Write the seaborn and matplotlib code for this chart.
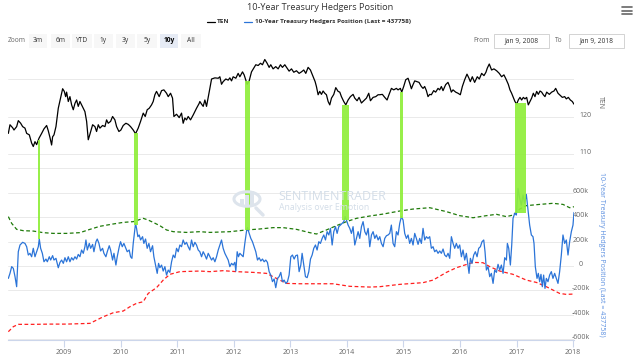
import numpy as np
import pandas as pd
import matplotlib
matplotlib.use("Agg")
import matplotlib.pyplot as plt
import matplotlib.dates as mdates
import matplotlib.ticker as mticker
from matplotlib.patches import Rectangle, Circle
from matplotlib.lines import Line2D
import seaborn as sns

# time in years after 2008-01-01
ten_t = [0.015, 0.044, 0.091, 0.115, 0.162, 0.191, 0.233, 0.268, 0.309, 0.339,
         0.386, 0.427, 0.456, 0.486, 0.515, 0.557, 0.604, 0.645, 0.692, 0.721,
         0.751, 0.780, 0.798, 0.822, 0.857, 0.898, 0.939, 0.975, 1.004, 1.028,
         1.045, 1.075, 1.104, 1.134, 1.163, 1.193, 1.222, 1.251, 1.281, 1.310,
         1.340, 1.369, 1.399, 1.428, 1.458, 1.505, 1.546, 1.575, 1.605, 1.634,
         1.681, 1.723, 1.752, 1.781, 1.823, 1.858, 1.899, 1.929, 1.970, 2.005,
         2.046, 2.093, 2.135, 2.176, 2.223, 2.264, 2.311, 2.353, 2.400, 2.435,
         2.470, 2.506, 2.547, 2.576, 2.606, 2.635, 2.682, 2.724, 2.765, 2.812,
         2.842, 2.883, 2.918, 2.942, 2.989, 3.036, 3.077, 3.106, 3.136, 3.165,
         3.195, 3.236, 3.283, 3.342, 3.389, 3.401, 3.431, 3.460, 3.490, 3.519,
         3.549, 3.578, 3.608, 3.667, 3.726, 3.755, 3.784, 3.813, 3.860, 3.902,
         3.931, 3.961, 3.990, 4.037, 4.078, 4.108, 4.155, 4.184, 4.214, 4.237,
         4.273, 4.314, 4.355, 4.390, 4.432, 4.473, 4.508, 4.549, 4.590, 4.626,
         4.655, 4.696, 4.743, 4.785, 4.826, 4.861, 4.903, 4.944, 4.979, 5.021,
         5.062, 5.109, 5.156, 5.197, 5.238, 5.274, 5.315, 5.356, 5.403, 5.439,
         5.462, 5.492, 5.521, 5.551, 5.580, 5.610, 5.639, 5.669, 5.698, 5.728,
         5.769, 5.804, 5.845, 5.875, 5.904, 5.945, 5.981, 6.022, 6.063, 6.110,
         6.140, 6.181, 6.216, 6.258, 6.299, 6.346, 6.387, 6.417, 6.464, 6.511,
         6.552, 6.581, 6.628, 6.670, 6.711, 6.747, 6.788, 6.829, 6.876, 6.905,
         6.946, 6.970, 7.005, 7.041, 7.082, 7.111, 7.141, 7.170, 7.200, 7.241,
         7.276, 7.317, 7.347, 7.376, 7.406, 7.435, 7.465, 7.494, 7.535, 7.570,
         7.612, 7.641, 7.671, 7.700, 7.747, 7.788, 7.818, 7.847, 7.877, 7.924,
         7.965, 8.006, 8.042, 8.083, 8.124, 8.159, 8.183, 8.218, 8.259, 8.306,
         8.342, 8.383, 8.424, 8.459, 8.483, 8.518, 8.559, 8.601, 8.648, 8.695,
         8.736, 8.777, 8.813, 8.854, 8.884, 8.913, 8.943, 8.972, 9.002, 9.031,
         9.061, 9.090, 9.120, 9.149, 9.179, 9.208, 9.238, 9.267, 9.297, 9.326,
         9.356, 9.385, 9.415, 9.444, 9.474, 9.503, 9.533, 9.580, 9.621, 9.662,
         9.692, 9.733, 9.774, 9.810, 9.851, 9.880, 9.916, 9.951, 9.986, 10.015]
ten_v = [115.6, 117.9, 117.1, 116.5, 117.4, 119.0, 118.3, 117.4, 117.0, 115.6,
         115.2, 113.0, 112.1, 113.4, 112.6, 114.3, 115.6, 116.8, 117.7, 116.3,
         114.5, 112.5, 114.7, 115.2, 117.4, 122.3, 125.0, 127.5, 126.8, 125.4,
         126.6, 124.1, 125.4, 123.2, 121.9, 123.6, 124.5, 122.8, 124.1, 123.2,
         122.3, 121.4, 118.8, 113.9, 115.4, 117.9, 117.4, 116.1, 117.9, 117.0,
         117.7, 117.4, 119.2, 118.3, 118.8, 120.1, 119.2, 117.4, 116.1, 116.5,
         117.7, 118.3, 118.0, 117.4, 116.5, 115.5, 117.0, 118.8, 121.0, 120.1,
         121.9, 122.3, 123.2, 124.1, 125.9, 126.8, 125.4, 127.0, 127.2, 126.3,
         125.4, 126.3, 125.0, 120.1, 120.7, 119.8, 121.0, 118.3, 119.7, 119.2,
         120.1, 119.2, 120.5, 122.3, 123.6, 124.1, 123.4, 122.8, 124.5, 122.8,
         125.2, 127.6, 130.1, 130.4, 130.3, 130.7, 128.7, 129.4, 130.1, 129.8,
         130.4, 129.6, 130.7, 130.3, 131.6, 130.7, 132.0, 131.2, 129.8, 128.7,
         129.6, 132.0, 133.0, 133.9, 133.7, 134.3, 133.9, 135.3, 134.3, 133.2,
         133.9, 132.8, 133.4, 132.8, 133.9, 133.2, 133.9, 133.0, 132.2, 132.8,
         131.9, 132.3, 131.6, 132.0, 132.5, 131.6, 133.2, 132.5, 130.7, 129.4,
         128.1, 125.9, 126.8, 126.0, 126.9, 126.3, 125.9, 124.1, 123.2, 125.0,
         126.0, 127.8, 126.8, 126.6, 125.4, 124.1, 123.2, 124.5, 125.4, 126.0,
         125.0, 124.3, 125.2, 123.7, 124.3, 125.0, 126.3, 124.3, 125.2, 125.4,
         125.9, 125.9, 126.0, 125.2, 124.5, 126.0, 127.6, 127.2, 127.6, 127.2,
         127.6, 126.6, 128.1, 129.9, 130.3, 129.0, 127.5, 128.6, 129.6, 129.4,
         129.2, 128.1, 127.6, 128.1, 127.0, 125.4, 126.0, 125.9, 127.0, 126.6,
         127.6, 127.2, 128.1, 127.0, 128.6, 129.2, 128.1, 126.6, 127.2, 126.6,
         126.3, 125.9, 128.1, 129.9, 131.4, 130.3, 129.4, 130.7, 129.2, 130.7,
         130.1, 131.6, 131.0, 131.9, 133.0, 134.1, 132.5, 132.8, 132.3, 131.6,
         130.7, 131.2, 130.1, 128.7, 127.2, 126.3, 125.2, 124.1, 123.4, 124.5,
         125.2, 124.5, 125.2, 124.8, 125.2, 123.2, 124.1, 125.0, 126.3, 125.4,
         126.8, 126.0, 126.9, 126.6, 125.9, 125.4, 126.6, 126.0, 126.6, 126.9,
         127.6, 126.3, 125.7, 125.2, 125.4, 124.8, 125.2, 124.5, 124.1, 123.4]

hedge_t = [0.015, 0.044, 0.074, 0.103, 0.133, 0.162, 0.191, 0.221, 0.268, 0.309,
           0.339, 0.368, 0.397, 0.427, 0.456, 0.486, 0.515, 0.545, 0.562, 0.586,
           0.616, 0.645, 0.680, 0.704, 0.739, 0.763, 0.798, 0.822, 0.857, 0.898,
           0.928, 0.957, 0.987, 1.016, 1.045, 1.075, 1.104, 1.134, 1.163, 1.193,
           1.222, 1.251, 1.281, 1.310, 1.340, 1.369, 1.387, 1.411, 1.446, 1.470,
           1.505, 1.528, 1.564, 1.587, 1.617, 1.646, 1.681, 1.705, 1.740, 1.764,
           1.799, 1.823, 1.858, 1.882, 1.917, 1.940, 1.976, 1.999, 2.029, 2.058,
           2.093, 2.117, 2.152, 2.176, 2.200, 2.223, 2.247, 2.264, 2.282, 2.305,
           2.329, 2.353, 2.388, 2.411, 2.441, 2.470, 2.500, 2.529, 2.565, 2.588,
           2.618, 2.647, 2.671, 2.694, 2.724, 2.753, 2.783, 2.812, 2.842, 2.871,
           2.901, 2.930, 2.960, 2.989, 3.018, 3.048, 3.077, 3.106, 3.136, 3.165,
           3.195, 3.224, 3.254, 3.283, 3.313, 3.342, 3.372, 3.401, 3.431, 3.460,
           3.490, 3.519, 3.549, 3.578, 3.608, 3.637, 3.667, 3.696, 3.726, 3.755,
           3.784, 3.813, 3.843, 3.872, 3.902, 3.931, 3.961, 3.990, 4.019, 4.037,
           4.061, 4.084, 4.108, 4.137, 4.167, 4.196, 4.225, 4.243, 4.273, 4.302,
           4.331, 4.361, 4.390, 4.420, 4.449, 4.479, 4.508, 4.538, 4.567, 4.596,
           4.626, 4.655, 4.685, 4.714, 4.743, 4.773, 4.802, 4.832, 4.861, 4.891,
           4.920, 4.950, 4.979, 5.009, 5.038, 5.068, 5.097, 5.127, 5.156, 5.186,
           5.209, 5.239, 5.268, 5.298, 5.327, 5.357, 5.386, 5.415, 5.445, 5.474,
           5.504, 5.533, 5.563, 5.592, 5.622, 5.651, 5.681, 5.710, 5.740, 5.769,
           5.799, 5.828, 5.857, 5.887, 5.917, 5.946, 5.969, 5.993, 6.022, 6.052,
           6.081, 6.110, 6.140, 6.169, 6.199, 6.228, 6.258, 6.287, 6.317, 6.346,
           6.376, 6.405, 6.435, 6.464, 6.494, 6.523, 6.553, 6.582, 6.611, 6.641,
           6.670, 6.700, 6.729, 6.758, 6.787, 6.817, 6.846, 6.876, 6.905, 6.935,
           6.964, 6.994, 7.023, 7.053, 7.082, 7.111, 7.141, 7.170, 7.200, 7.229,
           7.259, 7.288, 7.318, 7.347, 7.377, 7.406, 7.435, 7.465, 7.494, 7.524,
           7.553, 7.583, 7.612, 7.642, 7.671, 7.701, 7.730, 7.760, 7.789, 7.819,
           7.848, 7.878, 7.907, 7.936, 7.966, 7.995, 8.025, 8.054, 8.084, 8.113,
           8.143, 8.160, 8.184, 8.213, 8.243, 8.272, 8.302, 8.331, 8.361, 8.390,
           8.420, 8.443, 8.467, 8.496, 8.526, 8.555, 8.585, 8.614, 8.644, 8.673,
           8.703, 8.732, 8.762, 8.791, 8.821, 8.838, 8.862, 8.891, 8.915, 8.938,
           8.968, 8.997, 9.026, 9.056, 9.085, 9.115, 9.144, 9.173, 9.203, 9.232,
           9.262, 9.291, 9.309, 9.332, 9.362, 9.385, 9.409, 9.432, 9.456, 9.479,
           9.503, 9.527, 9.556, 9.585, 9.615, 9.644, 9.674, 9.703, 9.733, 9.762,
           9.792, 9.821, 9.851, 9.880, 9.910, 9.939, 9.969, 9.998, 10.016]
# hedgers position, thousands of contracts
hedge_v = [-101, -60, -5, -19, -87, -169, 117, 172, 194, 185,
           158, 90, 104, 76, 145, 76, 117, 158, 221, 145,
           104, 35, 57, 35, 76, 49, 85, 49, 63, -14,
           30, 49, 22, 68, 35, 76, 35, 68, 49, 76,
           57, 95, 76, 131, 104, 158, 213, 131, 185, 145,
           177, 117, 199, 221, 185, 123, 145, 104, 76, 117,
           166, 131, 49, 104, 8, 76, 158, 199, 158, 185,
           145, 117, 131, 76, 63, 185, 281, 349, 308, 240,
           254, 213, 240, 185, 221, 145, 185, 117, 166, 76,
           8, -60, 22, -14, 8, -41, -5, -74, -33, -52,
           35, 90, 68, 145, 117, 172, 158, 213, 177, 194,
           158, 131, 213, 158, 194, 172, 131, 117, 76, 117,
           90, 57, 104, 76, 49, 68, 35, 76, 131, 172,
           213, 145, 104, 76, 49, -5, 22, 8, 30, -41,
           117, 76, 104, 90, 76, 185, 281, 314, 267, 226,
           199, 158, 117, 49, 68, 41, 57, 35, 49, 30,
           -46, -74, -128, -106, -177, -101, -87, -52, -128, -115,
           -142, -128, -74, 76, 90, 57, 85, 90, -46, 8,
           104, 8, -87, -95, -46, 57, 90, 145, 172, 131,
           199, 185, 226, 254, 213, 281, 254, 308, 172, 281,
           322, 267, 322, 335, 349, 363, 404, 376, 335, 308,
           267, 322, 172, 226, 281, 226, 322, 363, 281, 254,
           308, 158, 254, 281, 226, 254, 213, 240, 185, 158,
           226, 248, 254, 267, 335, 185, 158, 281, 254, 349,
           404, 376, 267, 226, 254, 185, 226, 172, 267, 226,
           177, 226, 185, 308, 213, 240, 226, 240, 145, 158,
           117, 131, 104, 123, 104, 139, 90, 76, 104, 63,
           240, 185, 145, 185, 145, 172, 76, 131, 49, 104,
           -5, -60, 63, 22, 90, 117, 76, 145, 158, 199,
           213, 117, -33, -5, -87, -60, -142, -33, -52, 14,
           -33, 8, -60, 68, 49, 185, 145, 8, 172, 390,
           431, 417, 635, 554, 499, 581, 513, 586, 458, 335,
           254, 240, 185, -5, -101, -60, -128, -68, -169, -74,
           -183, -101, -128, -74, -46, -101, -60, -101, -142, -46,
           90, 254, 185, 213, 90, 199, 281, 335, 438]

upper_t = [0.015, 0.074, 0.162, 0.280, 0.456, 0.633, 0.810, 1.045, 1.281, 1.458,
           1.634, 1.870, 2.046, 2.223, 2.311, 2.400, 2.488, 2.576, 2.694, 2.812,
           2.930, 3.165, 3.401, 3.578, 3.931, 4.225, 4.461, 4.696, 4.873, 5.109,
           5.344, 5.462, 5.639, 5.816, 5.993, 6.169, 6.405, 6.641, 6.935, 7.170,
           7.465, 7.760, 7.995, 8.231, 8.467, 8.644, 8.821, 8.938, 9.056, 9.173,
           9.409, 9.644, 9.821, 9.939, 10.016]
upper_v = [404, 349, 300, 289, 286, 273, 267, 267, 273, 300,
           325, 344, 357, 363, 376, 390, 376, 357, 330, 295,
           281, 275, 281, 275, 281, 295, 303, 314, 314, 300,
           273, 262, 295, 330, 363, 390, 409, 425, 450, 466,
           477, 445, 412, 395, 412, 423, 404, 417, 466, 494,
           504, 513, 504, 477, 485]

lower_t = [0.015, 0.103, 0.191, 0.456, 0.751, 1.045, 1.458, 1.575, 1.693, 1.870,
           2.046, 2.164, 2.282, 2.400, 2.488, 2.635, 2.753, 2.871, 3.048, 3.401,
           3.578, 3.813, 4.049, 4.343, 4.579, 4.755, 4.932, 5.168, 5.462, 5.757,
           6.052, 6.405, 6.581, 6.935, 7.347, 7.524, 7.760, 7.936, 8.231, 8.408,
           8.526, 8.703, 8.938, 9.173, 9.350, 9.527, 9.762, 9.880, 10.016]
lower_v = [-537, -496, -477, -477, -475, -475, -469, -442, -415, -382,
           -368, -333, -305, -292, -224, -177, -115, -68, -46, -41,
           -46, -38, -46, -52, -60, -101, -142, -145, -145, -145,
           -166, -172, -169, -150, -136, -115, -52, -14, 30, 27,
           -5, -41, -68, -115, -134, -169, -224, -232, -229]

# signal periods: start/end (years after 2008), TEN value at top, hedgers value at bottom
sig_start = [0.539, 2.240, 4.196, 5.922, 6.947, 8.966]
sig_end = [0.574, 2.300, 4.284, 6.039, 7.000, 9.160]
sig_top = [113.7, 115.7, 129.6, 123.2, 126.6, 123.7]
sig_bottom = [221, 335, 295, 376, 390, 431]

hedge_ticks = [-600, -400, -200, 0, 200, 400, 600, 800]
ten_ticks = [110, 120, 130]
zoom_buttons = ["3m", "6m", "YTD", "1y", "3y", "5y", "10y", "All"]

assert len(ten_t) == len(ten_v)
assert len(hedge_t) == len(hedge_v)
assert len(upper_t) == len(upper_v)
assert len(lower_t) == len(lower_v)


def to_dates(offsets):
    return pd.Timestamp("2008-01-01") + pd.to_timedelta(np.asarray(offsets) * 365.25, unit="D")


sns.set_theme(style="white")
plt.rcParams["font.family"] = ["Open Sans", "DejaVu Sans"]

W, H = 640, 357
fig = plt.figure(figsize=(6.4, 3.57), dpi=100)


def fx(px):
    return px / W


def fy(py):
    return 1 - py / H


L, R, T, B = 8, 574, 55, 340
ax = fig.add_axes([fx(L), fy(B), (R - L) / W, (B - T) / H])
ax2 = ax.twinx()

sns.lineplot(x=to_dates(upper_t), y=upper_v, ax=ax, color="#1f7a0a", lw=0.9,
             linestyle=(0, (3, 2)))
sns.lineplot(x=to_dates(lower_t), y=lower_v, ax=ax, color="#ff1f1f", lw=0.9,
             linestyle=(0, (3, 2)))
sns.lineplot(x=to_dates(hedge_t), y=hedge_v, ax=ax, color="#2b74d8", lw=0.9)
sns.lineplot(x=to_dates(ten_t), y=ten_v, ax=ax2, color="black", lw=0.9)

ax.set_ylim(-605, 1726)
ax2.set_ylim(60.5, 136.5)
ax.set_xlim(to_dates([0.009])[0], to_dates([10.016])[0])

# green signal columns from the TEN line down to the hedgers line
h_lo, h_hi = ax.get_ylim()
t_lo, t_hi = ax2.get_ylim()
for s0, s1, top, bot in zip(sig_start, sig_end, sig_top, sig_bottom):
    d0, d1 = to_dates([s0, s1])
    ax2.axvspan(d0, d1, ymin=(bot - h_lo) / (h_hi - h_lo), ymax=(top - t_lo) / (t_hi - t_lo),
                color="#8fee3a", alpha=0.92, lw=0, zorder=5)

# axes styling
for a in (ax, ax2):
    for s in a.spines.values():
        s.set_visible(False)
    a.set_xlabel("")
    a.set_ylabel("")
ax.spines["bottom"].set_visible(True)
ax.spines["bottom"].set_color("#ccd6eb")
ax.spines["bottom"].set_linewidth(0.8)

ax.yaxis.tick_right()
ax.set_yticks(hedge_ticks)
ax.set_yticklabels(["0" if v == 0 else ("" if v == 800 else f"{v}k") for v in hedge_ticks])
ax2.set_yticks(ten_ticks)
ax2.set_yticklabels(["" if v == 130 else str(v) for v in ten_ticks])
ax.tick_params(axis="y", length=0, labelsize=5, labelcolor="#666666", pad=5)
ax2.tick_params(axis="y", length=0, labelsize=5, labelcolor="#666666", pad=8.6)
for lab in ax.get_yticklabels() + ax2.get_yticklabels():
    lab.set_ha("center")
    lab.set_va("baseline")

ax.grid(axis="y", color="#e6e6e6", lw=0.6)
ax2.grid(axis="y", color="#e6e6e6", lw=0.6)
ax.grid(axis="x", visible=False)
ax2.grid(axis="x", visible=False)
ax.set_axisbelow(True)

ax.xaxis.set_major_locator(mdates.YearLocator())
ax.xaxis.set_major_formatter(mdates.DateFormatter("%Y"))
ax.tick_params(axis="x", bottom=True, length=5, width=0.8, color="#ccd6eb",
               labelsize=5, labelcolor="#666666", pad=1.5)

# axis titles
fig.text(fx(600), fy(102), "TEN", rotation=270, ha="center", va="center",
         fontsize=5, color="#666666")
fig.text(fx(601), fy(254), "10-Year Treasury Hedgers Position (Last = 437758)",
         rotation=270, ha="center", va="center", fontsize=5, color="#5b8fe0")

# watermark
fig.text(fx(278), fy(196), "SENTIMENTRADER", ha="left", va="center", fontsize=9,
         color="#d3dde8", zorder=0)
fig.text(fx(279), fy(207.5), "Analysis over Emotion", ha="left", va="center",
         fontsize=6.3, color="#d3dde8", zorder=0)
fig.patches.append(Circle((fx(247), fy(199)), 13 / W, transform=fig.transFigure,
                          fill=False, ec="#dde4ec", lw=2.2, zorder=0))
for i, hgt in enumerate([7, 11, 15]):
    fig.patches.append(Rectangle((fx(240 + i * 5), fy(206)), 3.5 / W, hgt / H,
                                 transform=fig.transFigure, fc="#dde4ec", ec="none", zorder=0))
fig.lines.append(Line2D([fx(256), fx(263)], [fy(208), fy(215)], transform=fig.transFigure,
                        color="#dde4ec", lw=2.5, zorder=0))

# header: title, legend, range selector
fig.text(0.5, fy(8), "10-Year Treasury Hedgers Position", ha="center", va="center",
         fontsize=6.6, color="#333333")
fig.lines.append(Line2D([fx(207), fx(215)], [fy(21.5), fy(21.5)], transform=fig.transFigure,
                        color="black", lw=0.9))
fig.text(fx(217), fy(21.5), "TEN", ha="left", va="center", fontsize=4.6,
         fontweight="bold", color="#333333")
fig.lines.append(Line2D([fx(244), fx(252)], [fy(21.5), fy(21.5)], transform=fig.transFigure,
                        color="#2b74d8", lw=0.9))
fig.text(fx(255), fy(21.5), "10-Year Treasury Hedgers Position (Last = 437758)", ha="left",
         va="center", fontsize=4.6, fontweight="bold", color="#333333")

fig.text(fx(8), fy(41), "Zoom", ha="left", va="center", fontsize=4.8, color="#666666")
btn_x = [29, 51, 72, 94, 116, 137, 160, 181]
btn_w = [18, 19, 20, 19, 19, 20, 18, 20]
for lab, bx, bw in zip(zoom_buttons, btn_x, btn_w):
    sel = lab == "10y"
    fig.patches.append(Rectangle((fx(bx), fy(48)), bw / W, 14 / H, transform=fig.transFigure,
                                 fc="#e6ebf5" if sel else "#f7f7f7", ec="none"))
    fig.text(fx(bx + bw / 2), fy(41), lab, ha="center", va="center", fontsize=4.8,
             color="#000000" if sel else "#333333", fontweight="bold" if sel else "normal")

fig.text(fx(473), fy(41), "From", ha="left", va="center", fontsize=4.8, color="#666666")
fig.text(fx(555), fy(41), "To", ha="left", va="center", fontsize=4.8, color="#666666")
for bx, txt in [(494, "Jan 9, 2008"), (569, "Jan 9, 2018")]:
    fig.patches.append(Rectangle((fx(bx), fy(48)), 55 / W, 14 / H, transform=fig.transFigure,
                                 fc="white", ec="#cccccc", lw=0.6))
    fig.text(fx(bx + 27.5), fy(41), txt, ha="center", va="center", fontsize=4.8,
             color="#333333")

for yy in (7, 10.5, 14):
    fig.lines.append(Line2D([fx(622), fx(632)], [fy(yy), fy(yy)], transform=fig.transFigure,
                            color="#666666", lw=1.2))

fig.savefig("out.png", dpi=100)
